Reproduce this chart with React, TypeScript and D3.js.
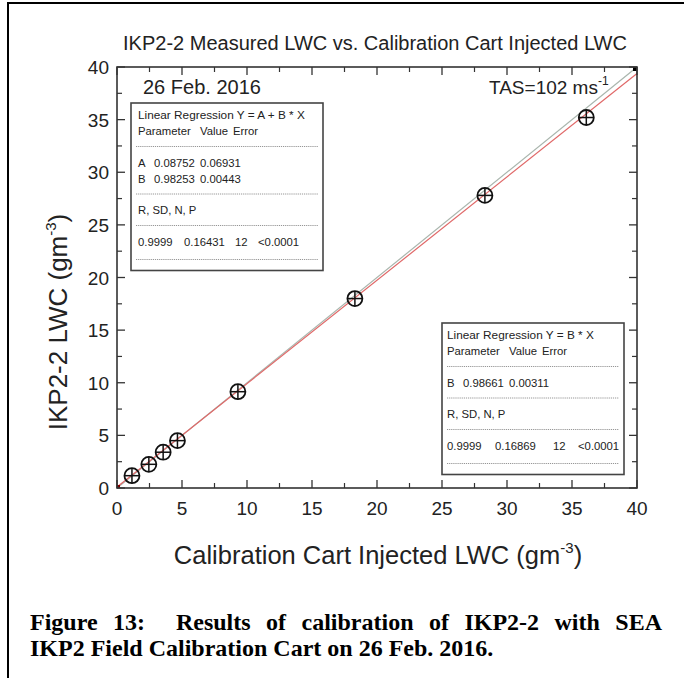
import React, { useLayoutEffect, useRef, useState } from "react";
import * as d3 from "d3";

const injected = [1.15, 2.45, 3.55, 4.65, 9.3, 18.3, 28.3, 36.1];
const measured = [1.17, 2.25, 3.4, 4.5, 9.15, 18.0, 27.8, 35.2];
const fitA = 0.08752;
const fitB = 0.98253;
const xTicks = [0, 5, 10, 15, 20, 25, 30, 35, 40];
const yTicks = [0, 5, 10, 15, 20, 25, 30, 35, 40];
const minorTicks = [2.5, 7.5, 12.5, 17.5, 22.5, 27.5, 32.5, 37.5];
const captionLines = [
  "Figure 13:  Results of calibration of IKP2-2 with SEA",
  "IKP2 Field Calibration Cart on 26 Feb. 2016.",
];

// rows of the regression boxes; "---" marks a dashed separator
const box1Rows: string[][] = [
  ["Linear Regression Y = A + B * X"],
  ["Parameter", "Value", "Error"],
  ["---"],
  ["A", "0.08752", "0.06931"],
  ["B", "0.98253", "0.00443"],
  ["---"],
  ["R, SD, N, P"],
  ["---"],
  ["0.9999", "0.16431", "12", "<0.0001"],
  ["---"],
];
const box2Rows: string[][] = [
  ["Linear Regression Y = B * X"],
  ["Parameter", "Value", "Error"],
  ["---"],
  ["B", "0.98661", "0.00311"],
  ["---"],
  ["R, SD, N, P"],
  ["---"],
  ["0.9999", "0.16869", "12", "<0.0001"],
  ["---"],
];

const W = 684, H = 678;
const L = 117, R = 637, T = 67, B = 488;
const font = "Arial, 'Liberation Sans', sans-serif";
const serif = "'Liberation Serif', 'Times New Roman', serif";

// column offsets (layout)
const cols1 = { pad: 7, 3: [0, 16, 62], 4: [0, 46, 97, 120], p: [0, 62, 95] };
const cols2 = { pad: 5, 3: [0, 16, 62], 4: [0, 48, 106, 131], p: [0, 62, 95] };

function StatBox({ x, y, w, rows, cols }: { x: number; y: number; w: number; rows: string[][]; cols: any }) {
  const items: React.ReactNode[] = [];
  let cy = y;
  rows.forEach((row, i) => {
    const isDash = row[0] === "---";
    const last = i === rows.length - 1;
    cy += i === 0 ? 12 : isDash ? (last ? 18 : 15.5) : 16;
    if (isDash) {
      items.push(
        <line key={i} x1={x + 5} x2={x + w - 5} y1={cy} y2={cy} stroke="#8a8a8a" strokeWidth={0.9} strokeDasharray="1.2,0.9" />
      );
    } else {
      const offs = row.length === 1 ? [0] : row[0] === "Parameter" ? cols.p : cols[row.length];
      row.forEach((cell, j) => {
        items.push(
          <text key={i + "-" + j} x={x + cols.pad + offs[j]} y={cy + 4} fontSize={row.length === 1 && i === 0 ? 11.8 : 11.3} fontFamily={font} fill="#222" style={{ whiteSpace: "pre" }}>
            {cell}
          </text>
        );
      });
    }
  });
  const h = cy - y + 11;
  return (
    <g>
      <rect x={x} y={y} width={w} height={h} fill="white" stroke="#444" strokeWidth={1.6} />
      {items}
    </g>
  );
}

export default function App() {
  const x = d3.scaleLinear().domain([0, 40]).range([L, R]);
  const y = d3.scaleLinear().domain([0, 40]).range([B, T]);
  const fitLine = d3.line<number>().x((d) => x(d)).y((d) => y(fitA + fitB * d));
  const oneLine = d3.line<number>().x((d) => x(d)).y((d) => y(d));
  const ends = [0, 40];
  const capRef = useRef<SVGTextElement>(null);
  const [ws, setWs] = useState(0);
  useLayoutEffect(() => {
    if (capRef.current) {
      const len = capRef.current.getComputedTextLength();
      const n = (captionLines[0].match(/ /g) || []).length;
      setWs(Math.max(0, (632 - len) / n));
    }
  }, []);
  return (
    <svg width={W} height={H} style={{ position: "absolute", left: 0, top: 0, background: "white" }}>
      <rect x={8} y={3} width={W + 10} height={H + 10} fill="white" stroke="black" strokeWidth={2} />
      <text x={375} y={50} textAnchor="middle" fontSize={20} fontFamily={font} fill="#222">
        IKP2-2 Measured LWC vs. Calibration Cart Injected LWC
      </text>
      {/* lines */}
      <path d={oneLine(ends) || ""} stroke="#a9b5ad" strokeWidth={1.2} fill="none" />
      <path d={fitLine(ends) || ""} stroke="#e06868" strokeWidth={1.2} fill="none" />
      <rect x={x(40) - 4} y={y(40)} width={4} height={4} fill="black" />
      <rect x={x(0)} y={y(0) - 3} width={3} height={3} fill="#700" />
      {/* axes frame */}
      <rect x={L} y={T} width={R - L} height={B - T} fill="none" stroke="#333" strokeWidth={1.6} />
      {xTicks.map((t) => (
        <g key={"x" + t}>
          <line x1={x(t)} x2={x(t)} y1={B} y2={B - 8} stroke="#333" strokeWidth={1.3} />
          <line x1={x(t)} x2={x(t)} y1={T} y2={T + 8} stroke="#333" strokeWidth={1.3} />
          <text x={x(t)} y={B + 27} textAnchor="middle" fontSize={19} fontFamily={font} fill="#222">{t}</text>
        </g>
      ))}
      {yTicks.map((t) => (
        <g key={"y" + t}>
          <line x1={L} x2={L + 8} y1={y(t)} y2={y(t)} stroke="#333" strokeWidth={1.3} />
          <line x1={R} x2={R - 8} y1={y(t)} y2={y(t)} stroke="#333" strokeWidth={1.3} />
          <text x={L - 8} y={y(t) + 7} textAnchor="end" fontSize={19} fontFamily={font} fill="#222">{t}</text>
        </g>
      ))}
      {minorTicks.map((t) => (
        <g key={"m" + t}>
          <line x1={x(t)} x2={x(t)} y1={B} y2={B - 5} stroke="#333" strokeWidth={1.2} />
          <line x1={x(t)} x2={x(t)} y1={T} y2={T + 5} stroke="#333" strokeWidth={1.2} />
          <line x1={L} x2={L + 5} y1={y(t)} y2={y(t)} stroke="#333" strokeWidth={1.2} />
          <line x1={R} x2={R - 5} y1={y(t)} y2={y(t)} stroke="#333" strokeWidth={1.2} />
        </g>
      ))}
      {/* points */}
      {injected.map((v, i) => {
        const cx = x(v), cy = y(measured[i]), r = 7.5;
        return (
          <g key={"p" + i}>
            <circle cx={cx} cy={cy} r={r} fill="none" stroke="#111" strokeWidth={1.8} />
            <line x1={cx - r} x2={cx + r} y1={cy} y2={cy} stroke="#111" strokeWidth={1.5} />
            <line x1={cx} x2={cx} y1={cy - r} y2={cy + r} stroke="#111" strokeWidth={1.5} />
          </g>
        );
      })}
      <text x={143} y={94} fontSize={20} fontFamily={font} fill="#222">26 Feb. 2016</text>
      <text x={489} y={94} fontSize={19} fontFamily={font} fill="#222">
        TAS=102 ms<tspan dy={-9} fontSize={12}>-1</tspan>
      </text>
      <StatBox x={131} y={103} w={192} rows={box1Rows} cols={cols1} />
      <StatBox x={442} y={323} w={182} rows={box2Rows} cols={cols2} />
      {/* axis titles */}
      <text x={(L + R) / 2 + 1} y={564} textAnchor="middle" fontSize={25.5} fontFamily={font} fill="#222">
        Calibration Cart Injected LWC (gm<tspan dy={-11} fontSize={15}>-3</tspan><tspan dy={11}>)</tspan>
      </text>
      <text transform={`translate(67, 322) rotate(-90)`} textAnchor="middle" fontSize={26} fontFamily={font} fill="#222">
        IKP2-2 LWC (gm<tspan dy={-11} fontSize={15}>-3</tspan><tspan dy={11}>)</tspan>
      </text>
      {/* caption */}
      <text ref={capRef} x={30} y={630} fontSize={24} fontWeight="bold" fontFamily={serif} fill="black" style={{ whiteSpace: "pre", wordSpacing: ws + "px" }}>
        {captionLines[0]}
      </text>
      <text x={30} y={656} fontSize={24} fontWeight="bold" fontFamily={serif} fill="black">
        {captionLines[1]}
      </text>
    </svg>
  );
}
